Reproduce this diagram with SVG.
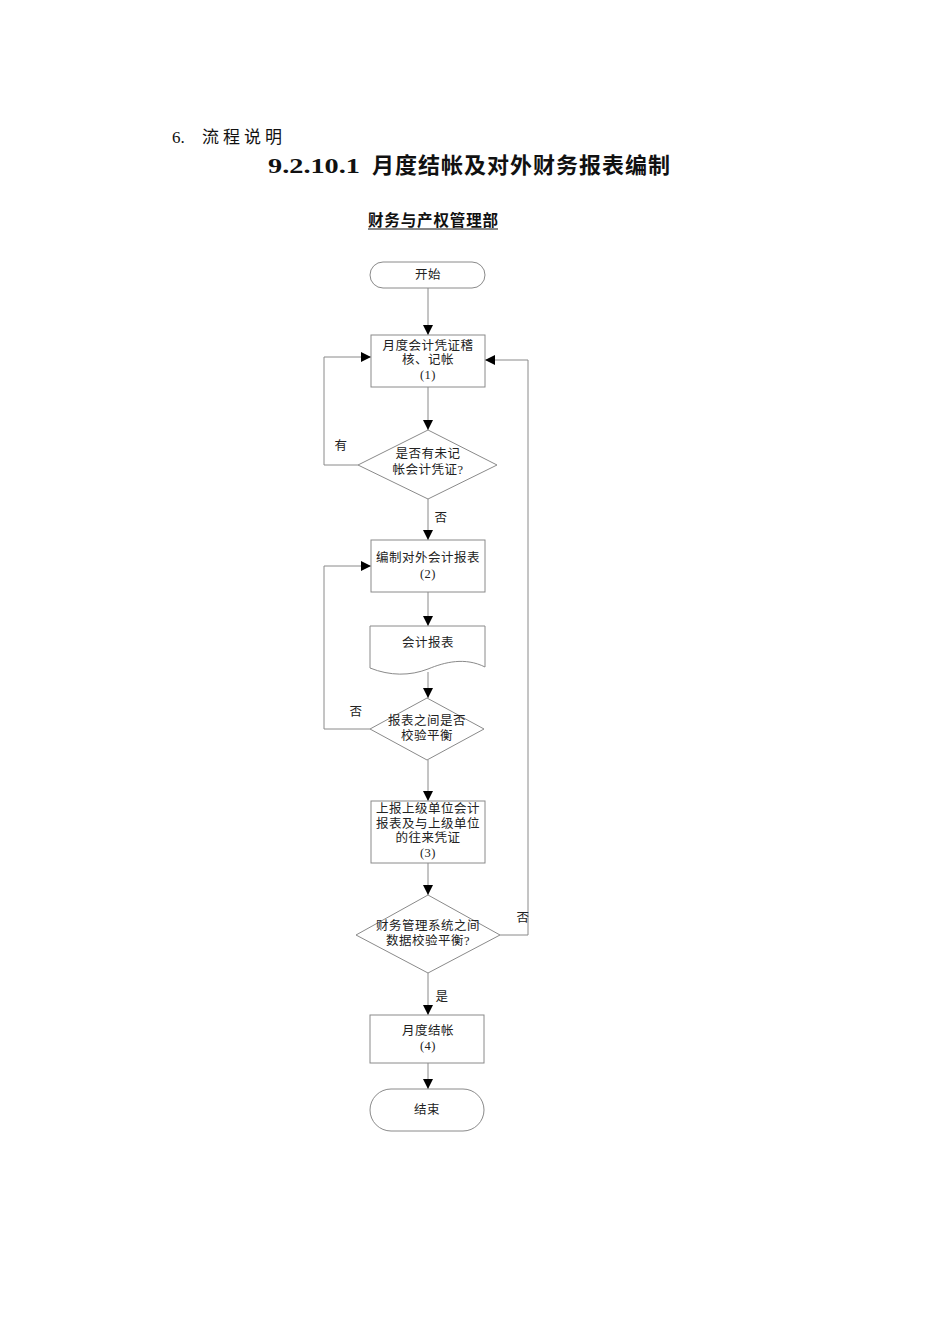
<svg xmlns="http://www.w3.org/2000/svg" width="950" height="1344" viewBox="0 0 950 1344">
<style>
.t{font-family:"Liberation Serif","Noto Sans CJK SC",serif;font-size:12.5px;fill:#222;text-anchor:middle;letter-spacing:0.5px}
.s{fill:#fff;stroke:#8a8a8a;stroke-width:1}
.c{fill:none;stroke:#8a8a8a;stroke-width:1}
.h{font-family:"Liberation Serif","Noto Sans CJK SC",serif;fill:#111}
</style>
<defs>
<marker id="ah" markerWidth="10" markerHeight="13" refX="10" refY="5" orient="auto" markerUnits="userSpaceOnUse">
<path d="M0,0 L10,5 L0,10 Z" fill="#000"/>
</marker>
</defs>
<rect width="950" height="1344" fill="#fff"/>
<g id="header">
<text class="h" x="172" y="143" font-size="17"><tspan>6.</tspan><tspan x="202" textLength="80" lengthAdjust="spacing">流程说明</tspan></text>
<text class="h" x="268" y="173" font-size="22" font-weight="bold"><tspan textLength="92" lengthAdjust="spacingAndGlyphs">9.2.10.1</tspan><tspan x="372" textLength="298" lengthAdjust="spacing">月度结帐及对外财务报表编制</tspan></text>
<text class="h" x="433" y="226" font-size="15.5" font-weight="bold" text-anchor="middle" textLength="130" lengthAdjust="spacing">财务与产权管理部</text>
<line x1="368" y1="229" x2="498" y2="229" stroke="#111" stroke-width="1"/>
</g>
<g id="connectors">
<line class="c" x1="428" y1="288" x2="428" y2="335" marker-end="url(#ah)"/>
<line class="c" x1="428" y1="387" x2="428" y2="430" marker-end="url(#ah)"/>
<polyline class="c" points="358,465 324,465 324,357 371,357" marker-end="url(#ah)"/>
<line class="c" x1="428" y1="499" x2="428" y2="540" marker-end="url(#ah)"/>
<line class="c" x1="428" y1="592" x2="428" y2="626" marker-end="url(#ah)"/>
<line class="c" x1="428" y1="672" x2="428" y2="698" marker-end="url(#ah)"/>
<polyline class="c" points="370,729 324,729 324,566 371,566" marker-end="url(#ah)"/>
<line class="c" x1="428" y1="760" x2="428" y2="801" marker-end="url(#ah)"/>
<line class="c" x1="428" y1="863" x2="428" y2="895" marker-end="url(#ah)"/>
<polyline class="c" points="500,935 528,935 528,360 485,360" marker-end="url(#ah)"/>
<line class="c" x1="428" y1="973" x2="428" y2="1015" marker-end="url(#ah)"/>
<line class="c" x1="428" y1="1063" x2="428" y2="1089" marker-end="url(#ah)"/>
<text class="t" x="341" y="450">有</text>
<text class="t" x="441" y="522">否</text>
<text class="t" x="356" y="716">否</text>
<text class="t" x="523" y="922">否</text>
<text class="t" x="442" y="1001">是</text>
</g>
<g id="start">
<rect class="s" x="370" y="262" width="115" height="26" rx="13"/>
<text class="t" x="428" y="279">开始</text>
</g>
<g id="step1">
<rect class="s" x="371" y="335" width="114" height="52"/>
<text class="t" x="428" y="350">月度会计凭证稽</text>
<text class="t" x="428" y="364">核、记帐</text>
<text class="t" x="428" y="379">(1)</text>
</g>
<g id="decision1">
<polygon class="s" points="428,430 497,465 428,499 358,465"/>
<text class="t" x="428" y="458">是否有未记</text>
<text class="t" x="428" y="474">帐会计凭证?</text>
</g>
<g id="step2">
<rect class="s" x="371" y="540" width="114" height="52"/>
<text class="t" x="428" y="562">编制对外会计报表</text>
<text class="t" x="428" y="578">(2)</text>
</g>
<g id="doc">
<path class="s" d="M370,626 H485 V667 C465,657 445,662 428,669 C410,676 390,676 370,668 Z"/>
<text class="t" x="428" y="647">会计报表</text>
</g>
<g id="decision2">
<polygon class="s" points="427,698 484,729 427,760 370,729"/>
<text class="t" x="427" y="725">报表之间是否</text>
<text class="t" x="427" y="740">校验平衡</text>
</g>
<g id="step3">
<rect class="s" x="371" y="801" width="114" height="62"/>
<text class="t" x="428" y="813">上报上级单位会计</text>
<text class="t" x="428" y="828">报表及与上级单位</text>
<text class="t" x="428" y="842">的往来凭证</text>
<text class="t" x="428" y="857">(3)</text>
</g>
<g id="decision3">
<polygon class="s" points="428,895 500,935 428,973 356,935"/>
<text class="t" x="428" y="930">财务管理系统之间</text>
<text class="t" x="428" y="945">数据校验平衡?</text>
</g>
<g id="step4">
<rect class="s" x="370" y="1015" width="114" height="48"/>
<text class="t" x="428" y="1035">月度结帐</text>
<text class="t" x="428" y="1050">(4)</text>
</g>
<g id="end">
<rect class="s" x="370" y="1089" width="114" height="42" rx="21"/>
<text class="t" x="427" y="1114">结束</text>
</g>
</svg>
